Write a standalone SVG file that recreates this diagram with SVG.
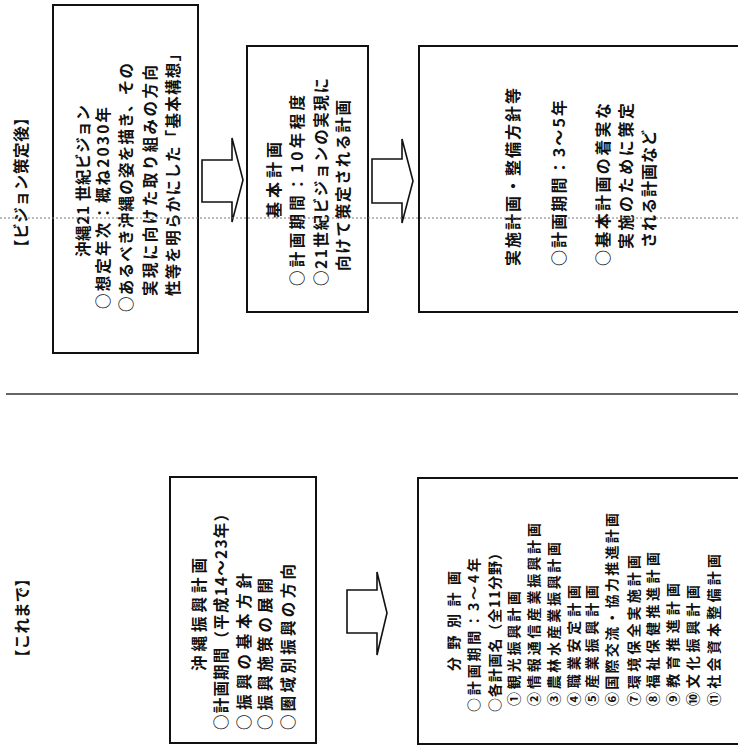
<svg xmlns="http://www.w3.org/2000/svg" width="738" height="749" viewBox="0 0 738 749">
<style>
.bg{fill:#fff}
.box{fill:#fff;stroke:#111;stroke-width:2}
.arrow{fill:#fff;stroke:#111;stroke-width:1.6;stroke-linejoin:miter}
.t{font-family:"Noto Sans CJK JP","Noto Sans CJK SC",sans-serif;fill:#111;dominant-baseline:central;font-weight:700}
.f16{font-size:15.5px}
.f17{font-size:16px}
.f14{font-size:14px}
.div{stroke:#333;stroke-width:1.5;fill:none}
.dot{stroke:#777;stroke-width:1;stroke-dasharray:2 2;fill:none}
</style>
<rect class="bg" x="0" y="0" width="738" height="749"/>

<g id="dividers">
<line class="div" x1="6" y1="394" x2="738" y2="394"/>
</g>

<g id="label-after">
<text class="t f16" transform="translate(20,255) rotate(-90)" textLength="145" lengthAdjust="spacing">【ビジョン策定後】</text>
</g>
<g id="label-before">
<text class="t f16" transform="translate(21,665) rotate(-90)" textLength="94" lengthAdjust="spacing">【これまで】</text>
</g>

<g id="node-vision">
<rect class="box" x="53" y="5" width="145" height="348"/>
<text class="t f16" transform="translate(82,257) rotate(-90)" textLength="152" lengthAdjust="spacing">沖縄21 世紀ビジョン</text>
<text class="t f16" transform="translate(102,309) rotate(-90)" textLength="202" lengthAdjust="spacing">○想定年次：概ね2030年</text>
<text class="t f16" transform="translate(125,312) rotate(-90)" textLength="249" lengthAdjust="spacing">○あるべき沖縄の姿を描き、その</text>
<text class="t f16" transform="translate(149,296) rotate(-90)" textLength="231" lengthAdjust="spacing">実現に向けた取り組みの方向</text>
<text class="t f16" transform="translate(172,296) rotate(-90)" textLength="250" lengthAdjust="spacing">性等を明らかにした「基本構想」</text>
</g>

<g id="node-basic">
<rect class="box" x="247" y="46" width="121" height="266"/>
<text class="t f17" transform="translate(273,218) rotate(-90)" textLength="76" lengthAdjust="spacing">基本計画</text>
<text class="t f16" transform="translate(296,286) rotate(-90)" textLength="191" lengthAdjust="spacing">○計画期間：10年程度</text>
<text class="t f16" transform="translate(320,286) rotate(-90)" textLength="208" lengthAdjust="spacing">○21世紀ビジョンの実現に</text>
<text class="t f16" transform="translate(342,271) rotate(-90)" textLength="171" lengthAdjust="spacing">向けて策定される計画</text>
</g>

<g id="node-implement">
<rect class="box" x="419" y="46" width="324" height="266"/>
<text class="t f17" transform="translate(512,266) rotate(-90)" textLength="178" lengthAdjust="spacing">実施計画・整備方針等</text>
<text class="t f17" transform="translate(558,266) rotate(-90)" textLength="166" lengthAdjust="spacing">○計画期間：3～5年</text>
<text class="t f17" transform="translate(602,266) rotate(-90)" textLength="163" lengthAdjust="spacing">○基本計画の着実な</text>
<text class="t f17" transform="translate(625,249) rotate(-90)" textLength="146" lengthAdjust="spacing">実施のために策定</text>
<text class="t f17" transform="translate(648,248) rotate(-90)" textLength="118" lengthAdjust="spacing">される計画など</text>
</g>

<g id="node-shinko">
<rect class="box" x="170" y="477" width="146" height="266"/>
<text class="t f16" transform="translate(198,671) rotate(-90)" textLength="113" lengthAdjust="spacing">沖縄振興計画</text>
<text class="t f16" transform="translate(220,730) rotate(-90)" textLength="224" lengthAdjust="spacing">○計画期間（平成14～23年）</text>
<text class="t f16" transform="translate(243,730) rotate(-90)" textLength="157" lengthAdjust="spacing">○振興の基本方針</text>
<text class="t f16" transform="translate(264,730) rotate(-90)" textLength="152" lengthAdjust="spacing">○振興施策の展開</text>
<text class="t f16" transform="translate(287,730) rotate(-90)" textLength="166" lengthAdjust="spacing">○圏域別振興の方向</text>
</g>

<g id="node-bunya">
<rect class="box" x="418" y="478" width="325" height="266"/>
<text class="t f14" transform="translate(453,671) rotate(-90)" textLength="100" lengthAdjust="spacing">分野別計画</text>
<text class="t f14" transform="translate(473,712) rotate(-90)" textLength="154" lengthAdjust="spacing">○計画期間：3～4年</text>
<text class="t f14" transform="translate(494,712) rotate(-90)" textLength="166" lengthAdjust="spacing">○各計画名（全11分野）</text>
<text class="t f14" transform="translate(513,706) rotate(-90)" textLength="115" lengthAdjust="spacing">①観光振興計画</text>
<text class="t f14" transform="translate(533,706) rotate(-90)" textLength="183" lengthAdjust="spacing">②情報通信産業振興計画</text>
<text class="t f14" transform="translate(553,706) rotate(-90)" textLength="164" lengthAdjust="spacing">③農林水産業振興計画</text>
<text class="t f14" transform="translate(573,706) rotate(-90)" textLength="121" lengthAdjust="spacing">④職業安定計画</text>
<text class="t f14" transform="translate(591,706) rotate(-90)" textLength="121" lengthAdjust="spacing">⑤産業振興計画</text>
<text class="t f14" transform="translate(611,706) rotate(-90)" textLength="193" lengthAdjust="spacing">⑥国際交流・協力推進計画</text>
<text class="t f14" transform="translate(633,706) rotate(-90)" textLength="151" lengthAdjust="spacing">⑦環境保全実施計画</text>
<text class="t f14" transform="translate(652,706) rotate(-90)" textLength="154" lengthAdjust="spacing">⑧福祉保健推進計画</text>
<text class="t f14" transform="translate(672,706) rotate(-90)" textLength="123" lengthAdjust="spacing">⑨教育推進計画</text>
<text class="t f14" transform="translate(692,706) rotate(-90)" textLength="121" lengthAdjust="spacing">⑩文化振興計画</text>
<text class="t f14" transform="translate(713,706) rotate(-90)" textLength="152" lengthAdjust="spacing">⑪社会資本整備計画</text>
</g>

<g id="connectors">
<polygon class="arrow" points="202,160 232,160 232,138 243,180 232,222 232,202 202,202"/>
<polygon class="arrow" points="372,159 402,159 402,139 413,181 402,223 402,203 372,203"/>
<polygon class="arrow" points="347,590 377,590 377,572 387,613 377,655 377,633 347,633"/>
</g>

<g id="guide">
<line class="dot" x1="0" y1="218" x2="738" y2="218"/>
</g>
</svg>
